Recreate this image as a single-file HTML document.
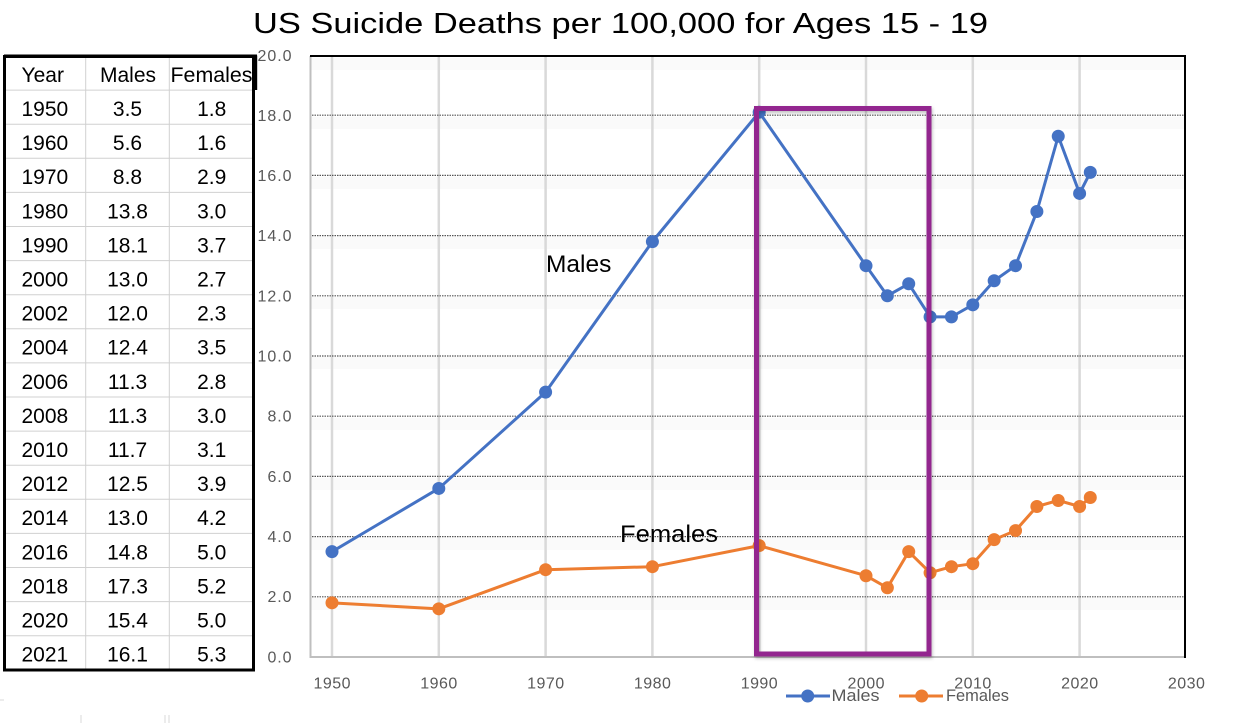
<!DOCTYPE html>
<html>
<head>
<meta charset="utf-8">
<style>
html,body{margin:0;padding:0;background:#fff;}
svg{display:block;}
text{font-family:"Liberation Sans",Arial,sans-serif;}
</style>
</head>
<body>
<svg width="1237" height="723" viewBox="0 0 1237 723" xmlns="http://www.w3.org/2000/svg">
<defs>
<filter id="sh" x="-10%" y="-10%" width="120%" height="120%">
<feDropShadow dx="1" dy="2" stdDeviation="1.5" flood-color="#000" flood-opacity="0.25"/>
</filter>
</defs>
<rect x="0" y="0" width="1237" height="723" fill="#fff"/>

<!-- Title -->
<text x="620.5" y="33" font-size="29" text-anchor="middle" textLength="735" lengthAdjust="spacingAndGlyphs" fill="#000">US Suicide Deaths per 100,000 for Ages 15 - 19</text>

<!-- Plot area shading bands (very faint) -->
<g fill="#fafafa">
<rect x="311" y="58" width="873" height="12"/>
<rect x="311" y="117" width="873" height="12"/>
<rect x="311" y="177" width="873" height="12"/>
<rect x="311" y="237" width="873" height="12"/>
<rect x="311" y="297" width="873" height="12"/>
<rect x="311" y="357" width="873" height="12"/>
<rect x="311" y="418" width="873" height="12"/>
<rect x="311" y="478" width="873" height="12"/>
<rect x="311" y="538" width="873" height="12"/>
<rect x="311" y="598" width="873" height="12"/>
</g>

<!-- vertical gridlines -->
<g stroke="#d9d9d9" stroke-width="2.5">
<line x1="332" y1="56" x2="332" y2="657"/>
<line x1="438.8" y1="56" x2="438.8" y2="657"/>
<line x1="545.6" y1="56" x2="545.6" y2="657"/>
<line x1="652.4" y1="56" x2="652.4" y2="657"/>
<line x1="759.2" y1="56" x2="759.2" y2="657"/>
<line x1="866" y1="56" x2="866" y2="657"/>
<line x1="972.8" y1="56" x2="972.8" y2="657"/>
<line x1="1079.6" y1="56" x2="1079.6" y2="657"/>
</g>

<!-- horizontal dotted gridlines -->
<g stroke="#555" stroke-width="1.2" stroke-dasharray="1.5 1">
<line x1="312" y1="596.8" x2="1184" y2="596.8"/>
<line x1="312" y1="536.6" x2="1184" y2="536.6"/>
<line x1="312" y1="476.4" x2="1184" y2="476.4"/>
<line x1="312" y1="416.2" x2="1184" y2="416.2"/>
<line x1="312" y1="356" x2="1184" y2="356"/>
<line x1="312" y1="295.8" x2="1184" y2="295.8"/>
<line x1="312" y1="235.6" x2="1184" y2="235.6"/>
<line x1="312" y1="175.4" x2="1184" y2="175.4"/>
<line x1="312" y1="115.2" x2="1184" y2="115.2"/>
</g>

<!-- axes / borders -->
<line x1="310.5" y1="56" x2="310.5" y2="658" stroke="#bfbfbf" stroke-width="2"/>
<line x1="309.5" y1="657" x2="1186" y2="657" stroke="#bfbfbf" stroke-width="2"/>
<line x1="310" y1="56" x2="1186" y2="56" stroke="#000" stroke-width="2"/>
<line x1="1185" y1="55" x2="1185" y2="658" stroke="#000" stroke-width="2"/>

<!-- Y labels -->
<g font-size="16" fill="#595959" text-anchor="end" lengthAdjust="spacingAndGlyphs">
<text x="291.5" y="61" textLength="34">20.0</text>
<text x="291.5" y="121" textLength="34">18.0</text>
<text x="291.5" y="181" textLength="34">16.0</text>
<text x="291.5" y="241" textLength="34">14.0</text>
<text x="291.5" y="301.5" textLength="34">12.0</text>
<text x="291.5" y="361.5" textLength="34">10.0</text>
<text x="291.5" y="421.5" textLength="24">8.0</text>
<text x="291.5" y="482" textLength="24">6.0</text>
<text x="291.5" y="542" textLength="24">4.0</text>
<text x="291.5" y="602" textLength="24">2.0</text>
<text x="291.5" y="662.5" textLength="24">0.0</text>
</g>

<!-- X labels -->
<g font-size="16" fill="#595959" text-anchor="middle" lengthAdjust="spacingAndGlyphs">
<text x="332" y="688.5" textLength="37">1950</text>
<text x="438.8" y="688.5" textLength="37">1960</text>
<text x="545.6" y="688.5" textLength="37">1970</text>
<text x="652.4" y="688.5" textLength="37">1980</text>
<text x="759.2" y="688.5" textLength="37">1990</text>
<text x="866" y="688.5" textLength="37">2000</text>
<text x="972.8" y="688.5" textLength="37">2010</text>
<text x="1079.6" y="688.5" textLength="37">2020</text>
<text x="1186.4" y="688.5" textLength="37">2030</text>
</g>

<!-- Males series -->
<polyline fill="none" stroke="#4472c4" stroke-width="3" stroke-linejoin="round"
points="332,551.65 438.8,488.44 545.6,392.12 652.4,241.62 759.2,112.19 866,265.7 887.36,295.8 908.72,283.76 930.08,316.87 951.44,316.87 972.8,304.83 994.16,280.75 1015.52,265.7 1036.88,211.52 1058.24,136.27 1079.6,193.46 1090.28,172.39"/>
<g fill="#4472c4">
<circle cx="332" cy="551.65" r="6.5"/>
<circle cx="438.8" cy="488.44" r="6.5"/>
<circle cx="545.6" cy="392.12" r="6.5"/>
<circle cx="652.4" cy="241.62" r="6.5"/>
<circle cx="759.2" cy="112.19" r="6.5"/>
<circle cx="866" cy="265.7" r="6.5"/>
<circle cx="887.36" cy="295.8" r="6.5"/>
<circle cx="908.72" cy="283.76" r="6.5"/>
<circle cx="930.08" cy="316.87" r="6.5"/>
<circle cx="951.44" cy="316.87" r="6.5"/>
<circle cx="972.8" cy="304.83" r="6.5"/>
<circle cx="994.16" cy="280.75" r="6.5"/>
<circle cx="1015.52" cy="265.7" r="6.5"/>
<circle cx="1036.88" cy="211.52" r="6.5"/>
<circle cx="1058.24" cy="136.27" r="6.5"/>
<circle cx="1079.6" cy="193.46" r="6.5"/>
<circle cx="1090.28" cy="172.39" r="6.5"/>
</g>

<!-- Females series -->
<polyline fill="none" stroke="#ed7d31" stroke-width="3" stroke-linejoin="round"
points="332,602.82 438.8,608.84 545.6,569.71 652.4,566.7 759.2,545.63 866,575.73 887.36,587.77 908.72,551.65 930.08,572.72 951.44,566.7 972.8,563.69 994.16,539.61 1015.52,530.58 1036.88,506.5 1058.24,500.48 1079.6,506.5 1090.28,497.47"/>
<g fill="#ed7d31">
<circle cx="332" cy="602.82" r="6.5"/>
<circle cx="438.8" cy="608.84" r="6.5"/>
<circle cx="545.6" cy="569.71" r="6.5"/>
<circle cx="652.4" cy="566.7" r="6.5"/>
<circle cx="759.2" cy="545.63" r="6.5"/>
<circle cx="866" cy="575.73" r="6.5"/>
<circle cx="887.36" cy="587.77" r="6.5"/>
<circle cx="908.72" cy="551.65" r="6.5"/>
<circle cx="930.08" cy="572.72" r="6.5"/>
<circle cx="951.44" cy="566.7" r="6.5"/>
<circle cx="972.8" cy="563.69" r="6.5"/>
<circle cx="994.16" cy="539.61" r="6.5"/>
<circle cx="1015.52" cy="530.58" r="6.5"/>
<circle cx="1036.88" cy="506.5" r="6.5"/>
<circle cx="1058.24" cy="500.48" r="6.5"/>
<circle cx="1079.6" cy="506.5" r="6.5"/>
<circle cx="1090.28" cy="497.47" r="6.5"/>
</g>

<!-- Purple box -->
<rect x="756.5" y="108.5" width="172.5" height="545.5" fill="none" stroke="#93268f" stroke-width="5" filter="url(#sh)"/>

<!-- In-chart labels -->
<text x="546" y="272" font-size="24.5" fill="#000">Males</text>
<text x="620" y="542" font-size="24.5" fill="#000" textLength="98" lengthAdjust="spacingAndGlyphs">Females</text>

<!-- Legend -->
<line x1="786" y1="696" x2="830" y2="696" stroke="#4472c4" stroke-width="3"/>
<circle cx="807.7" cy="696" r="6.5" fill="#4472c4"/>
<text x="831.5" y="701" font-size="16.5" fill="#595959" textLength="48" lengthAdjust="spacingAndGlyphs">Males</text>
<line x1="899" y1="696" x2="943" y2="696" stroke="#ed7d31" stroke-width="3"/>
<circle cx="921.7" cy="696" r="6.5" fill="#ed7d31"/>
<text x="946" y="701" font-size="16.5" fill="#595959" textLength="63" lengthAdjust="spacingAndGlyphs">Females</text>

<!-- Table -->
<g stroke="#d0d0d0" stroke-width="1">
<line x1="85.7" y1="57" x2="85.7" y2="670"/>
<line x1="169.3" y1="57" x2="169.3" y2="670"/>
<line x1="4" y1="124.2" x2="254" y2="124.2"/>
<line x1="4" y1="158.3" x2="254" y2="158.3"/>
<line x1="4" y1="192.4" x2="254" y2="192.4"/>
<line x1="4" y1="226.5" x2="254" y2="226.5"/>
<line x1="4" y1="260.6" x2="254" y2="260.6"/>
<line x1="4" y1="294.7" x2="254" y2="294.7"/>
<line x1="4" y1="328.8" x2="254" y2="328.8"/>
<line x1="4" y1="362.9" x2="254" y2="362.9"/>
<line x1="4" y1="397" x2="254" y2="397"/>
<line x1="4" y1="431.1" x2="254" y2="431.1"/>
<line x1="4" y1="465.2" x2="254" y2="465.2"/>
<line x1="4" y1="499.3" x2="254" y2="499.3"/>
<line x1="4" y1="533.4" x2="254" y2="533.4"/>
<line x1="4" y1="567.5" x2="254" y2="567.5"/>
<line x1="4" y1="601.6" x2="254" y2="601.6"/>
<line x1="4" y1="635.7" x2="254" y2="635.7"/>
<line x1="4" y1="90.1" x2="254" y2="90.1"/>
</g>
<rect x="4.5" y="56.5" width="249" height="613.5" fill="none" stroke="#000" stroke-width="3"/>
<line x1="255.7" y1="55.5" x2="255.7" y2="90" stroke="#000" stroke-width="3"/>
<line x1="4" y1="56" x2="257" y2="56" stroke="#000" stroke-width="3"/>

<g font-size="21" fill="#000">
<text x="21.5" y="82">Year</text>
<text x="128" y="82" text-anchor="middle">Males</text>
<text x="211.5" y="82" text-anchor="middle" textLength="82" lengthAdjust="spacingAndGlyphs">Females</text>
</g>
<g font-size="21" fill="#000">
<text x="21.5" y="116">1950</text><text x="127.5" y="116" text-anchor="middle">3.5</text><text x="211.7" y="116" text-anchor="middle">1.8</text>
<text x="21.5" y="150.1">1960</text><text x="127.5" y="150.1" text-anchor="middle">5.6</text><text x="211.7" y="150.1" text-anchor="middle">1.6</text>
<text x="21.5" y="184.2">1970</text><text x="127.5" y="184.2" text-anchor="middle">8.8</text><text x="211.7" y="184.2" text-anchor="middle">2.9</text>
<text x="21.5" y="218.3">1980</text><text x="127.5" y="218.3" text-anchor="middle">13.8</text><text x="211.7" y="218.3" text-anchor="middle">3.0</text>
<text x="21.5" y="252.4">1990</text><text x="127.5" y="252.4" text-anchor="middle">18.1</text><text x="211.7" y="252.4" text-anchor="middle">3.7</text>
<text x="21.5" y="286.5">2000</text><text x="127.5" y="286.5" text-anchor="middle">13.0</text><text x="211.7" y="286.5" text-anchor="middle">2.7</text>
<text x="21.5" y="320.6">2002</text><text x="127.5" y="320.6" text-anchor="middle">12.0</text><text x="211.7" y="320.6" text-anchor="middle">2.3</text>
<text x="21.5" y="354.7">2004</text><text x="127.5" y="354.7" text-anchor="middle">12.4</text><text x="211.7" y="354.7" text-anchor="middle">3.5</text>
<text x="21.5" y="388.8">2006</text><text x="127.5" y="388.8" text-anchor="middle">11.3</text><text x="211.7" y="388.8" text-anchor="middle">2.8</text>
<text x="21.5" y="422.9">2008</text><text x="127.5" y="422.9" text-anchor="middle">11.3</text><text x="211.7" y="422.9" text-anchor="middle">3.0</text>
<text x="21.5" y="457">2010</text><text x="127.5" y="457" text-anchor="middle">11.7</text><text x="211.7" y="457" text-anchor="middle">3.1</text>
<text x="21.5" y="491.1">2012</text><text x="127.5" y="491.1" text-anchor="middle">12.5</text><text x="211.7" y="491.1" text-anchor="middle">3.9</text>
<text x="21.5" y="525.2">2014</text><text x="127.5" y="525.2" text-anchor="middle">13.0</text><text x="211.7" y="525.2" text-anchor="middle">4.2</text>
<text x="21.5" y="559.3">2016</text><text x="127.5" y="559.3" text-anchor="middle">14.8</text><text x="211.7" y="559.3" text-anchor="middle">5.0</text>
<text x="21.5" y="593.4">2018</text><text x="127.5" y="593.4" text-anchor="middle">17.3</text><text x="211.7" y="593.4" text-anchor="middle">5.2</text>
<text x="21.5" y="627.5">2020</text><text x="127.5" y="627.5" text-anchor="middle">15.4</text><text x="211.7" y="627.5" text-anchor="middle">5.0</text>
<text x="21.5" y="661.6">2021</text><text x="127.5" y="661.6" text-anchor="middle">16.1</text><text x="211.7" y="661.6" text-anchor="middle">5.3</text>
</g>

<!-- faint stray marks -->
<g stroke="#d9d9d9" stroke-width="1">
<line x1="0" y1="700" x2="4" y2="700"/>
<line x1="81" y1="715" x2="81" y2="723"/>
<line x1="165" y1="715" x2="165" y2="723"/>
<line x1="169" y1="715" x2="169" y2="723"/>
</g>
</svg>
</body>
</html>
